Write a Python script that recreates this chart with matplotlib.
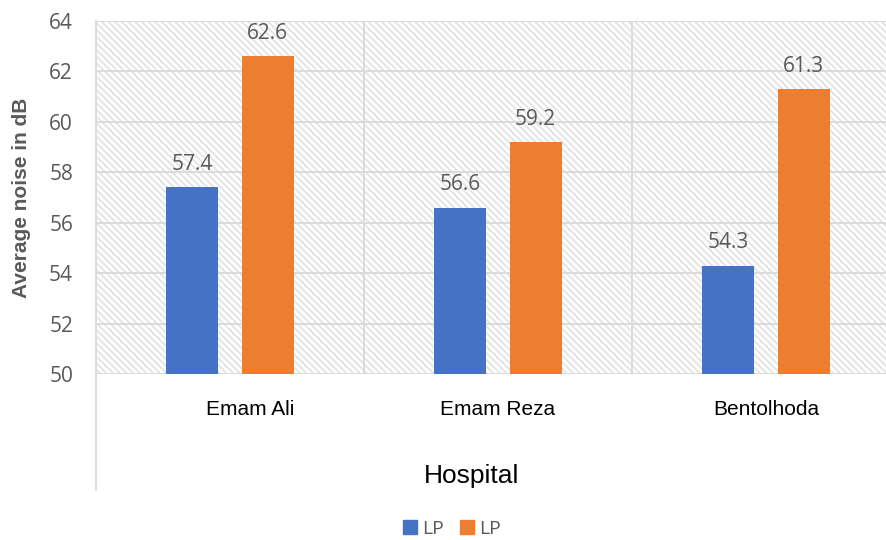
import numpy as np
import matplotlib
matplotlib.use("Agg")
import matplotlib.pyplot as plt
from matplotlib.patches import Patch, Rectangle
from matplotlib.transforms import ScaledTranslation

# Data
hospitals = ["Emam Ali", "Emam Reza", "Bentolhoda"]
lp_first = [57.4, 56.6, 54.3]
lp_second = [62.6, 59.2, 61.3]
series_names = ["LP", "LP"]
y_ticks = [50, 52, 54, 56, 58, 60, 62, 64]

blue = "#4472C4"
orange = "#ED7D31"
grid = "#d9d9d9"
gray_txt = "#595959"

plt.rcParams["hatch.linewidth"] = 1.3

fig = plt.figure(figsize=(8.86, 5.40), dpi=100)
W, H = 886, 540
# plot area: x 96 -> 900 px (runs past the right edge), y 21 -> 374 px
ax = fig.add_axes([96 / W, 1 - 374 / H, (900 - 96) / W, (374 - 21) / H])

# hatched background
bg = Rectangle((0, 0), 1, 1, transform=ax.transAxes, facecolor="white",
               edgecolor="#e3e3e3", hatch="\\" * 5, linewidth=0, zorder=0)
ax.add_patch(bg)

x = np.arange(len(hospitals))
w = 0.194
off = 0.14
b1 = ax.bar(x - off, [v - 50 for v in lp_first], w, bottom=50, color=blue, zorder=3)
b2 = ax.bar(x + off, [v - 50 for v in lp_second], w, bottom=50, color=orange, zorder=3)

for xs, vals in [(x - off, lp_first), (x + off, lp_second)]:
    for xi, v in zip(xs, vals):
        ax.annotate(f"{v:.1f}", (xi, v), xytext=(0, 12.4), textcoords="offset points",
                    ha="center", va="baseline", fontsize=15, color=gray_txt,
                    family="Open Sans")

ax.set_xlim(-0.5, 2.5)
ax.set_ylim(50, 64)
ax.set_yticks(y_ticks)
ax.set_yticklabels([str(t) for t in y_ticks], fontsize=15, color=gray_txt, family="Open Sans")
ax.tick_params(axis="y", length=0, pad=16.5)
ax.set_xticks(x)
ax.set_xticklabels(hospitals, fontsize=15, color="black", family="Liberation Sans")
ax.tick_params(axis="x", length=0, pad=19)
# first category label sits a bit right of centre in the original
lab0 = ax.get_xticklabels()[0]
lab0.set_transform(lab0.get_transform() + ScaledTranslation(20 / 100, 0, fig.dpi_scale_trans))

for y in y_ticks:
    ax.axhline(y, color=grid, lw=1.3, zorder=1)
for xv in [0.5, 1.5]:
    ax.axvline(xv, color=grid, lw=1.3, zorder=1)

for s in ax.spines.values():
    s.set_visible(False)

# left axis line continuing down past the category labels
ax.plot([0, 0], [1, -(490 - 374) / (374 - 21)], transform=ax.transAxes,
        color=grid, lw=1.3, clip_on=False, zorder=2)

fig.text(22 / W, 1 - 197.5 / H, "Average noise in dB", rotation=90, ha="center",
         va="center", fontsize=15, fontweight="bold", color=gray_txt,
         family="Liberation Sans")
fig.text(472 / W, 1 - 476 / H, "Hospital", ha="center", va="center", fontsize=19,
         color="black", family="Liberation Sans")

handles = [Patch(color=blue), Patch(color=orange)]
leg = fig.legend(handles, series_names, loc="center", bbox_to_anchor=(452 / W, 1 - 529 / H),
                 ncol=2, frameon=False, handlelength=0.72, handleheight=0.72,
                 handletextpad=0.3, columnspacing=0.8,
                 prop={"family": "Open Sans", "size": 14})
for t in leg.get_texts():
    t.set_color(gray_txt)

fig.savefig("out.png", dpi=100)
